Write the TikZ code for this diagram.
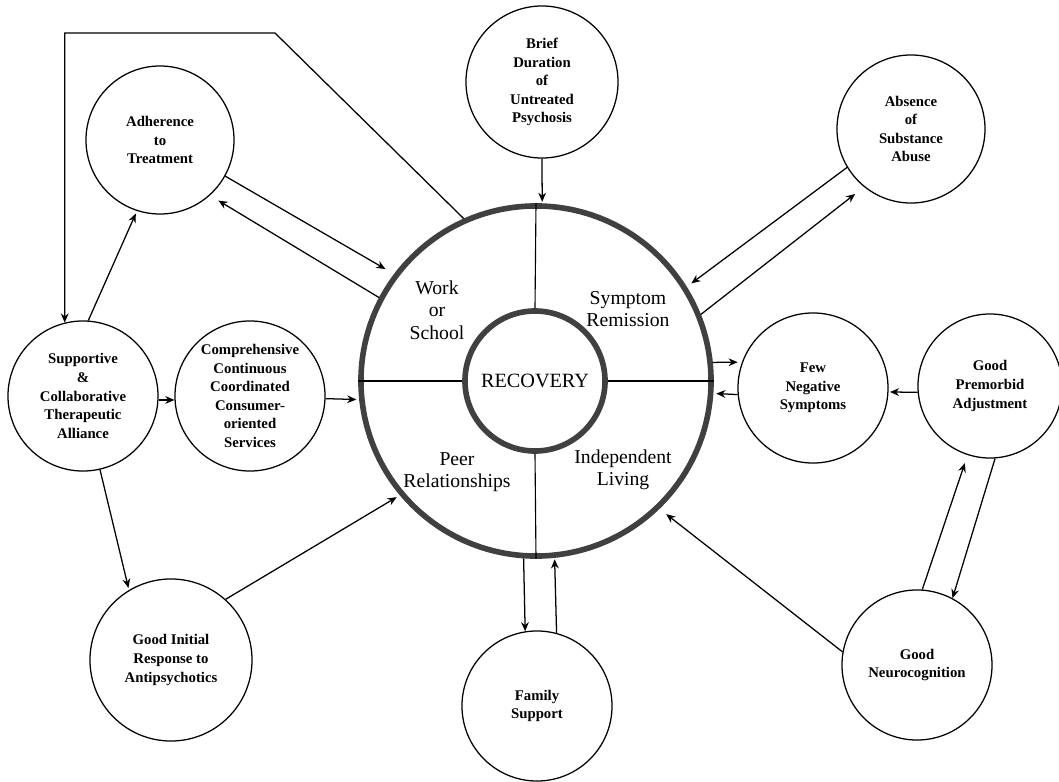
\documentclass[tikz,border=0pt]{standalone}
\usepackage{fontspec}
\setmainfont{Liberation Serif}
\usetikzlibrary{arrows.meta}

\begin{document}
\begin{tikzpicture}[x=0.025cm, y=-0.025cm,
    factor/.style={circle, draw, line width=0.9pt, minimum size=3.75cm, inner sep=0pt, align=center,
        font=\fontsize{10.5}{13.2}\selectfont\bfseries},
    ring/.style={circle, draw=black!75, line width=4pt, inner sep=0pt},
    area/.style={align=center, font=\fontsize{14}{16}\selectfont},
    arr/.style={-{Stealth[length=6.5pt,width=5.5pt]}, line width=0.9pt}]
    \useasboundingbox (0,0) rectangle (1059,782);

    % recovery wheel
    \node[ring, minimum size=8.75cm] (rec) at (536,381) {};
    \node[ring, minimum size=3.5cm, font=\fontsize{14.4}{16}\selectfont] (core) at (535,381) {RECOVERY};
    \draw[line width=0.8pt] (rec.north) -- (core.north);
    \draw[line width=0.8pt] (rec.south) -- (core.south);
    \draw[line width=0.8pt] (rec.west) -- (core.west);
    \draw[line width=0.8pt] (rec.east) -- (core.east);
    \node[area] (work) at (437,310) {Work\\or\\School};
    \node[area] (remission) at (628,309) {Symptom\\Remission};
    \node[area] (peer) at (457,472) {Peer\\Relationships};
    \node[area] (living) at (623,470) {Independent\\Living};

    % factors
    \node[factor, minimum size=3.7cm] (adh) at (160,140) {Adherence\\to\\Treatment};
    \node[factor, minimum size=3.8cm] (dup) at (542,82) {Brief\\Duration\\of\\Untreated\\Psychosis};
    \node[factor, minimum size=3.7cm] (sub) at (911,129) {Absence\\of\\Substance\\Abuse};
    \node[factor] (sup) at (83,396) {Supportive\\\&\\Collaborative\\Therapeutic\\Alliance};
    \node[factor] (com) at (250,396) {Comprehensive\\Continuous\\Coordinated\\Consumer-\\oriented\\Services};
    \node[factor] (neg) at (813,388) {Few\\Negative\\Symptoms};
    \node[factor, minimum size=3.6cm] (pre) at (990,386) {Good\\Premorbid\\Adjustment};
    \node[factor] (neu) at (917,665) {Good\\Neurocognition};
    \node[factor] (fam) at (537,706) {Family\\Support};
    \node[factor, minimum size=4.05cm] (ini) at (171,660) {Good Initial\\Response to\\Antipsychotics};

    % connectors
    \coordinate (bend) at (275,33);
    \draw[arr] (rec.114) -- (bend) -| (sup.104);
    \draw[arr, shorten >=2pt] (sup.86) -- (adh.252);
    \draw[arr, shorten >=7pt] (adh.331) -- (rec.143);
    \draw[arr, shorten >=7pt] (rec.152) -- (adh.312);
    \draw[arr, shorten >=1pt] (dup.south) -- (rec.88);
    \draw[arr, shorten >=4pt] (sub.211) -- (rec.32);
    \draw[arr, shorten >=8pt] (rec.22) -- (sub.231);
    \draw[arr, shorten >=3pt] (rec.6) -- (neg.160);
    \draw[arr, shorten >=2pt] (neg.185) -- (rec.-4);
    \draw[arr, shorten >=1pt] (pre.185) -- (neg.-3);
    \draw[arr, shorten >=6pt] (neu.86) -- (pre.252);
    \draw[arr] (pre.274) -- (neu.62);
    \draw[arr, shorten >=6pt] (neu.170) -- (rec.314);
    \draw[arr] (rec.266) -- (fam.99);
    \draw[arr, shorten >=1pt] (fam.75) -- (rec.276);
    \draw[arr, shorten >=2.5pt] (ini.48) -- (rec.220);
    \draw[arr, shorten >=1.5pt] (sup.283) -- (ini.121);
    \draw[arr] (sup.-3) -- (com.183);
    \draw[arr, shorten >=2pt] (com.-2) -- (rec.186);
\end{tikzpicture}
\end{document}
